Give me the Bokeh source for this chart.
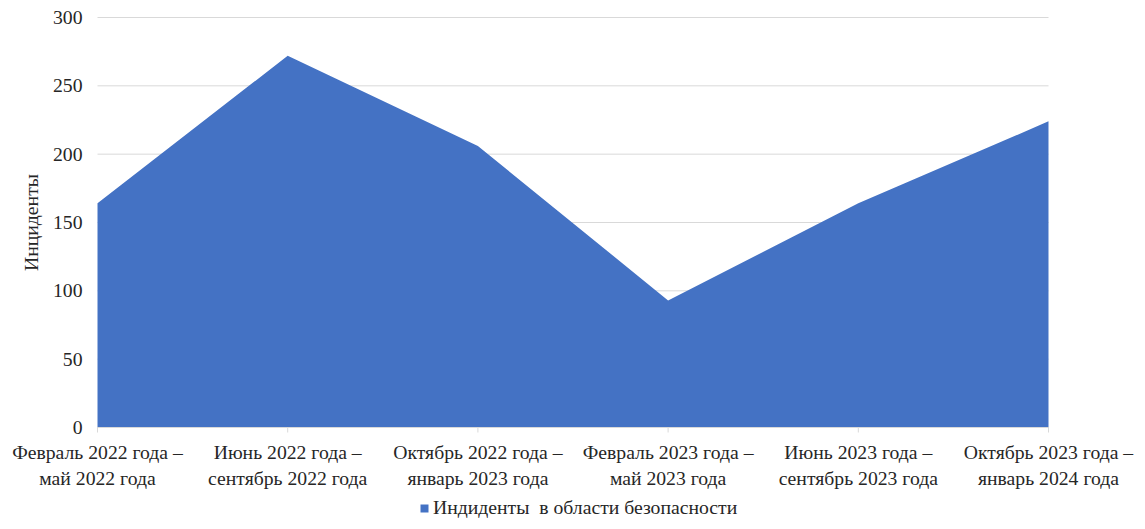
import math
from bokeh.plotting import figure
from bokeh.models import Range1d, Legend, LegendItem
from bokeh.core.properties import value
from bokeh.embed import file_html
from bokeh.resources import INLINE

categories = [
    "Февраль 2022 года –\nмай 2022 года",
    "Июнь 2022 года –\nсентябрь 2022 года",
    "Октябрь 2022 года –\nянварь 2023 года",
    "Февраль 2023 года –\nмай 2023 года",
    "Июнь 2023 года –\nсентябрь 2023 года",
    "Октябрь 2023 года –\nянварь 2024 года",
]
incidents = [164, 272, 206, 93, 164, 224]
y_ticks = [0, 50, 100, 150, 200, 250, 300]
y_tick_labels = ["0", "50", "100", "150", "200", "250", "300"]
series_name = "Индиденты  в области безопасности"
y_title = "Инциденты"

FONT = "Liberation Serif"
FS = "19.7px"
BLUE = "#4472C4"
GRID = "#D9D9D9"
TXT = "#262626"

# layout (pixels)
W, H = 1137, 521
LEFT, RIGHT, TOP = 97, 89, 17
PLOT_W = W - LEFT - RIGHT
PLOT_H = 410
N = len(categories)
Y_MAX = 300
px_x = PLOT_W / (N - 1)
px_y = PLOT_H / Y_MAX
x_start = -LEFT / px_x
x_end = (N - 1) + RIGHT / px_x
y_end = Y_MAX + TOP / px_y
y_start = Y_MAX - (H - TOP) / px_y
TICK_LEN = 5 / px_y

xs = list(range(N))

p = figure(width=W, height=H, output_backend="svg", toolbar_location=None,
           x_range=Range1d(x_start, x_end), y_range=Range1d(y_start, y_end),
           x_axis_location=None, y_axis_location=None,
           min_border_left=0, min_border_right=0, min_border_top=0, min_border_bottom=0)
p.outline_line_color = None
p.background_fill_color = "white"
p.border_fill_color = "white"
p.xgrid.grid_line_color = None
p.ygrid.grid_line_color = None

# horizontal gridlines over the category span
p.segment(x0=[0] * len(y_ticks), y0=y_ticks, x1=[N - 1] * len(y_ticks), y1=y_ticks,
          line_color=GRID, line_width=1)

r = p.varea(x=xs, y1=[0] * N, y2=incidents, fill_color=BLUE, fill_alpha=1.0)

# category axis
p.segment(x0=[0], y0=[0], x1=[N - 1], y1=[0], line_color=GRID, line_width=1)
p.segment(x0=xs, y0=[0] * N, x1=xs, y1=[-TICK_LEN] * N, line_color=GRID, line_width=1)
p.text(x=xs, y=[0] * N, text=categories, y_offset=13,
       text_align="center", text_baseline="top", text_line_height=1.2,
       text_font=value(FONT), text_font_size=FS, text_color=TXT)

# value axis labels
p.text(x=[0] * len(y_ticks), y=y_ticks, text=y_tick_labels, x_offset=-15,
       text_align="right", text_baseline="middle",
       text_font=value(FONT), text_font_size=FS, text_color=TXT)
p.text(x=[0], y=[Y_MAX / 2], text=[y_title], x_offset=-67, angle=math.pi / 2,
       text_align="center", text_baseline="middle",
       text_font=value(FONT), text_font_size=FS, text_color=TXT)

legend = Legend(items=[LegendItem(label=series_name, renderers=[r])],
                location=(419, 2), orientation="horizontal",
                glyph_width=10, glyph_height=10, padding=0, margin=0, spacing=0,
                label_standoff=4, border_line_color=None, background_fill_alpha=0,
                label_text_font=FONT, label_text_font_size=FS, label_text_color=TXT)
p.add_layout(legend, "center")

open("out.html", "w").write(file_html(p, INLINE))
